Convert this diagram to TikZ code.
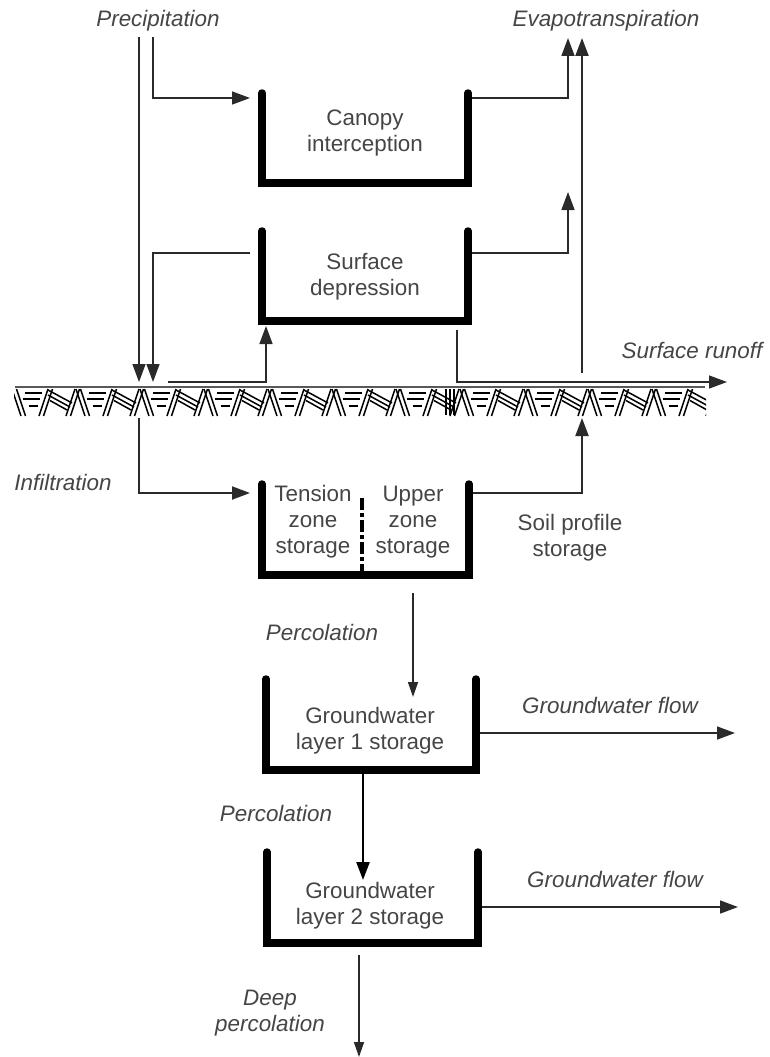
\documentclass[tikz,border=0pt]{standalone}
\usepackage{fontspec}
\setmainfont{Liberation Sans}
\usetikzlibrary{arrows.meta}
\definecolor{txt}{HTML}{454545}
\definecolor{ln}{HTML}{2a2a2a}
\tikzset{
  lab/.style={font=\itshape\fontsize{22.4}{26}\selectfont, text=txt, inner sep=0pt, align=center},
  btxt/.style={font=\fontsize{22.4}{26}\selectfont, text=txt, inner sep=0pt, align=center},
  tank/.style={line width=7.5pt, line cap=round, line join=miter, black},
  conn/.style={line width=1.5pt, draw=ln, -{Triangle[length=18pt,width=13pt]}},
  connthin/.style={line width=1.5pt, draw=ln, -{Triangle[length=15pt,width=10pt]}},
  hatchln/.style={line width=1.5pt, black},
}
\begin{document}
\begin{tikzpicture}[x=1pt,y=-1pt]
\useasboundingbox (0,0) rectangle (769,1057);

% ---------- tanks ----------
\draw[tank] (262,93) -- (262,183) -- (468,183) -- (468,93);
\draw[tank] (262,231) -- (262,321) -- (468,321) -- (468,231);
\draw[tank] (262,484) -- (262,575) -- (469,575) -- (469,484);
\draw[line width=4.5pt, dash pattern=on 12pt off 3pt on 4pt off 3pt] (362,498) -- (362,578);
\draw[tank] (266,679) -- (266,770) -- (476,770) -- (476,679);
\draw[tank] (267,852) -- (267,943) -- (478,943) -- (478,852);

% ---------- texts ----------
\node[lab] (tPrec) at (158,21) {Precipitation};
\node[lab] (tEvap) at (606,21) {Evapotranspiration};
\node[btxt] (tCan) at (365,133) {Canopy\\interception};
\node[btxt] (tSur) at (365,277) {Surface\\depression};
\node[lab] (tRun) at (692,350) {Surface runoff};
\node[lab] (tInf) at (63,482) {Infiltration};
\node[btxt] (tTen) at (313,522) {Tension\\zone\\storage};
\node[btxt] (tUpp) at (413,522) {Upper\\zone\\storage};
\node[btxt] (tSoil) at (570,538) {Soil profile\\storage};
\node[lab] (tPer1) at (322,632) {Percolation};
\node[btxt] (tGw1) at (370,731) {Groundwater\\layer 1 storage};
\node[lab] (tFlow1) at (610,705) {Groundwater flow};
\node[lab] (tPer2) at (276,813) {Percolation};
\node[btxt] (tGw2) at (370,906) {Groundwater\\layer 2 storage};
\node[lab] (tFlow2) at (615,879) {Groundwater flow};
\node[lab] (tDeep) at (270,1013) {Deep\\percolation};

% ---------- ground surface ----------
\draw[line width=2pt, black!65] (15,387) -- (705,387);
\begin{scope}
\clip (14,388) rectangle (706,418);
\foreach \x in {12,76,...,690} {
  \draw[hatchln] (\x+0,389) -- (\x+9,416) (\x+4.5,389) -- (\x+13.5,416);
  \draw[hatchln] (\x+13,393) -- (\x+30,393) (\x+11,399) -- (\x+28,399) (\x+17,406) -- (\x+26,406);
  \draw[hatchln] (\x+36,389) -- (\x+27,416) (\x+40.5,389) -- (\x+31.5,416);
  \draw[hatchln] (\x+36,390) -- (\x+60,403) (\x+36,395) -- (\x+58,407) (\x+38,400.5) -- (\x+55,410);
  \draw[hatchln] (\x+63,389) -- (\x+54,416) (\x+67.5,389) -- (\x+58.5,416);
}
\end{scope}
\draw[hatchln] (446,389) -- (446,415) (450,389) -- (450,415) (454,389) -- (454,415);

% ---------- connector points ----------
\coordinate (pA0) at (139,37);  \coordinate (pA1) at (139,382);
\coordinate (pB0) at (153,37);  \coordinate (pB1) at (153,98);  \coordinate (pB2) at (250,98);
\coordinate (c0) at (472,98);   \coordinate (c1) at (568,98);   \coordinate (c2) at (568,38);
\coordinate (d0) at (250,253);  \coordinate (d1) at (153,253);  \coordinate (d2) at (153,382);
\coordinate (g0) at (168,382);  \coordinate (g1) at (266,382);  \coordinate (g2) at (266,326);
\coordinate (e0) at (472,253);  \coordinate (e1) at (568,253);  \coordinate (e2) at (568,192);
\coordinate (r0) at (457,330);  \coordinate (r1) at (457,382);  \coordinate (r2) at (727,382);
\coordinate (v0) at (582,373);  \coordinate (v1) at (582,38);
\coordinate (i0) at (139,418);  \coordinate (i1) at (139,493);  \coordinate (i2) at (250,493);
\coordinate (s0) at (473,493);  \coordinate (s1) at (582,493);  \coordinate (s2) at (582,418);
\coordinate (p0) at (413,593);  \coordinate (p1) at (413,697);
\coordinate (q0) at (363,774);  \coordinate (q1) at (363,880);
\coordinate (f0) at (480,733);  \coordinate (f1) at (735,733);
\coordinate (h0) at (482,907);  \coordinate (h1) at (738,907);
\coordinate (z0) at (359,955);  \coordinate (z1) at (359,1057);

% ---------- connectors ----------
\draw[conn] (pA0) -- (pA1);
\draw[conn] (pB0) -- (pB1) -- (pB2);
\draw[conn] (c0) -- (c1) -- (c2);
\draw[conn] (d0) -- (d1) -- (d2);
\draw[conn] (g0) -- (g1) -- (g2);
\draw[conn] (e0) -- (e1) -- (e2);
\draw[conn] (r0) -- (r1) -- (r2);
\draw[conn, line width=2.2pt] (v0) -- (v1);
\draw[conn, line width=2pt] (i0) -- (i1) -- (i2);
\draw[conn, line width=2pt] (s0) -- (s1) -- (s2);
\draw[connthin] (p0) -- (p1);
\draw[conn, line width=2.5pt, draw=black] (q0) -- (q1);
\draw[conn] (f0) -- (f1);
\draw[conn] (h0) -- (h1);
\draw[connthin] (z0) -- (z1);
\end{tikzpicture}
\end{document}
